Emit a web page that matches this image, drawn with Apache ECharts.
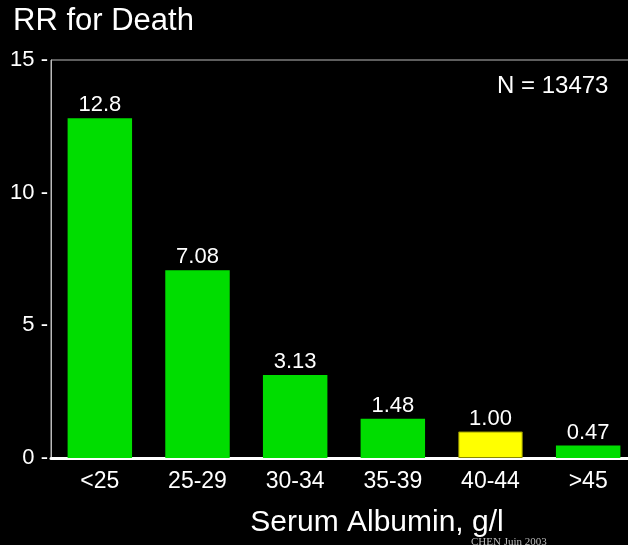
<!DOCTYPE html>
<html>
<head>
<meta charset="utf-8">
<script src="https://cdn.jsdelivr.net/npm/echarts@6/dist/echarts.min.js"></script>
<style>
  html, body { margin: 0; padding: 0; background: #000; }
  #main { width: 628px; height: 545px; }
</style>
</head>
<body>
<div id="main"></div>
<script>
// albumin groups and relative risk of death
const categories = ['<25', '25-29', '30-34', '35-39', '40-44', '>45']
const rrValues = [12.8, 7.08, 3.13, 1.48, 1.00, 0.47]
const rrLabels = ['12.8', '7.08', '3.13', '1.48', '1.00', '0.47']
const referenceGroup = '40-44'

const font = 'Liberation Sans, Arial, sans-serif'

const myChart = echarts.init(document.getElementById('main'))
const option = {
  backgroundColor: '#000',
  animation: false,
  title: {
    text: 'RR for Death',
    left: 8,
    top: 1,
    textStyle: { color: '#fff', fontSize: 31, fontWeight: 'normal', fontFamily: font }
  },
  grid: {
    left: 51, right: -9, top: 60, bottom: 87,
    outerBoundsMode: 'none',
    show: true, borderColor: '#bbb', borderWidth: 1, backgroundColor: 'transparent'
  },
  xAxis: {
    type: 'category',
    data: categories,
    name: 'Serum Albumin, g/l',
    nameLocation: 'middle',
    nameGap: 50,
    nameTextStyle: { color: '#fff', fontSize: 30, fontFamily: font, padding: [0, 0, 0, 66] },
    axisLine: { lineStyle: { color: '#fff', width: 3 } },
    axisTick: { alignWithLabel: true, length: 4, lineStyle: { color: '#bbb' } },
    axisLabel: { color: '#fff', fontSize: 23, fontFamily: font, margin: 12 }
  },
  yAxis: {
    type: 'value',
    min: 0, max: 15, interval: 5,
    splitLine: { show: false },
    axisLine: { show: true, lineStyle: { color: '#bbb', width: 1 } },
    axisTick: { show: false },
    axisLabel: { color: '#fff', fontSize: 22, fontFamily: font, margin: 3, formatter: '{value} -' }
  },
  series: [{
    type: 'bar',
    barWidth: '66%',
    data: rrValues.map((v, i) => ({
      value: v,
      itemStyle: categories[i] === referenceGroup
        ? { color: '#ffff00', borderColor: '#8a8a00', borderWidth: 1 }
        : { color: '#00dd00' }
    })),
    label: {
      show: true,
      position: 'top',
      distance: 2,
      color: '#fff',
      fontSize: 22,
      fontFamily: font,
      formatter: p => rrLabels[p.dataIndex]
    }
  }],
  graphic: [
    { type: 'text', left: 497, top: 74, style: { text: 'N = 13473', fill: '#fff', fontSize: 24, fontFamily: font } },
    { type: 'text', left: 471, top: 537, style: { text: 'CHEN Juin 2003', fill: '#bbb', fontSize: 11, fontFamily: 'Liberation Serif, serif' } }
  ]
}
myChart.setOption(option)
</script>
</body>
</html>
